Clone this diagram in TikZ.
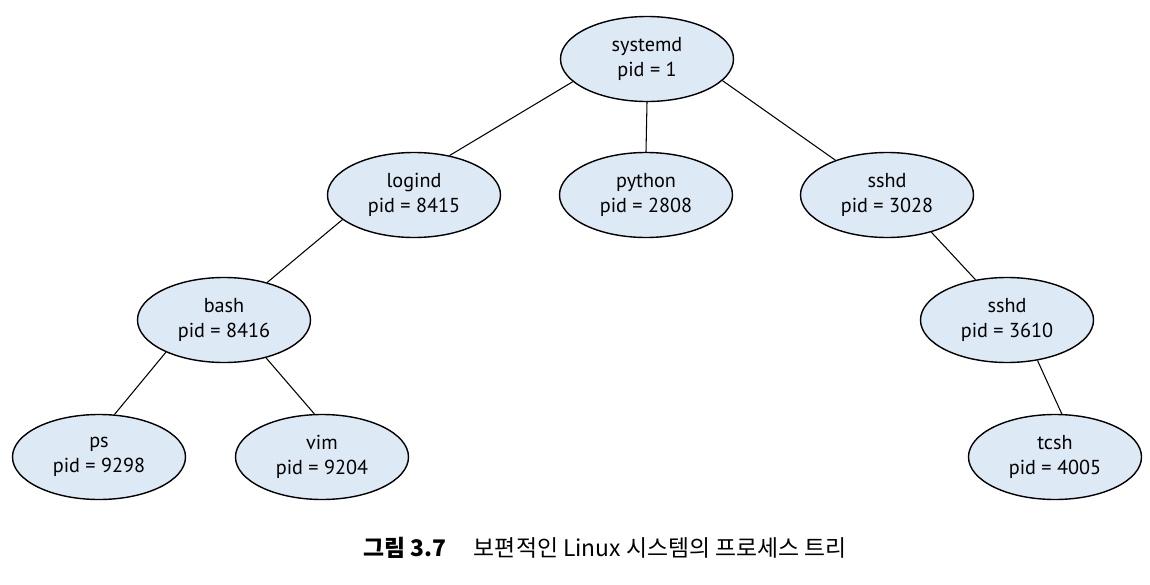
\documentclass[tikz,border=0pt]{standalone}
\usepackage{fontspec}
\setmainfont{PT Sans}
\newfontfamily\kofont{Noto Sans CJK KR}
\usetikzlibrary{shapes.geometric}
\definecolor{procblue}{RGB}{222,233,246}
\tikzset{
  proc/.style={ellipse,draw,line width=0.8pt,fill=procblue,minimum width=3.46cm,
    minimum height=1.7cm,inner sep=0pt,align=center,font=\fontsize{11.5}{14.6}\selectfont},
  ag/.style={line width=0.6pt},
}

\begin{document}
\begin{tikzpicture}
  \useasboundingbox (0,0) rectangle (23,11.68);
  \node[proc] (sysd) at (12.94,10.5) {systemd\\pid = 1};
  \node[proc] (logind) at (8.28,7.78) {logind\\pid = 8415};
  \node[proc] (python) at (12.92,7.78) {python\\pid = 2808};
  \node[proc] (sshd) at (17.74,7.78) {sshd\\pid = 3028};
  \node[proc] (bash) at (4.48,5.28) {bash\\pid = 8416};
  \node[proc] (sshdb) at (20.14,5.28) {sshd\\pid = 3610};
  \node[proc] (ps) at (1.98,2.54) {ps\\pid = 9298};
  \node[proc] (vim) at (6.44,2.54) {vim\\pid = 9204};
  \node[proc] (tcsh) at (21.1,2.54) {tcsh\\pid = 4005};
  % kapcsolatok
  \draw[ag] (sysd.197) -- (logind.48);
  \draw[ag] (sysd.south) -- (python.north);
  \draw[ag] (sysd.344) -- (sshd.146);
  \draw[ag] (logind.199) -- (bash.41);
  \draw[ag] (bash.209) -- (ps.70);
  \draw[ag] (bash.318) -- (vim.100);
  \draw[ag] (sshd.320) -- (sshdb.128);
  \draw[ag] (sshdb.307) -- (tcsh.81);
  \node[font=\kofont\fontsize{13}{15}\selectfont] (cap) at (12.1,0.72)
    {{\bfseries 그림 3.7}\hspace{1.2em}보편적인 Linux 시스템의 프로세스 트리};
\end{tikzpicture}
\end{document}
